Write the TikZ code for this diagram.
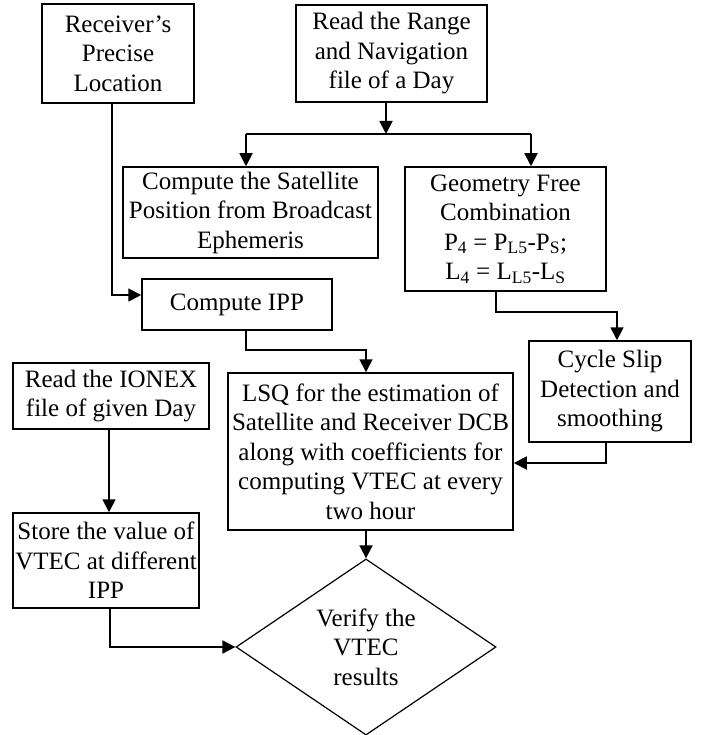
\documentclass[tikz,border=0pt]{standalone}
\usepackage{fontspec}
\setmainfont{Liberation Serif}
\usetikzlibrary{arrows.meta,shapes.geometric}
\begin{document}
\begin{tikzpicture}[x=1pt,y=1pt,
  every node/.style={font=\fontsize{25}{29.5}\selectfont, align=center, inner sep=0pt},
  boxnode/.style={draw, line width=1.5pt, rectangle},
  arr/.style={line width=1.8pt, -{Triangle[length=13pt,width=13pt]}},
  conn/.style={line width=1.8pt}]
\useasboundingbox (0,0) rectangle (705,-735);
\node[boxnode, minimum width=152pt, minimum height=99pt] (loc) at (118,-53.5) {Receiver’s\\Precise\\Location};
\node[boxnode, minimum width=191pt, minimum height=97pt] (read) at (391.5,-53.5) {Read the Range\\and Navigation\\file of a Day};
\node[boxnode, minimum width=255pt, minimum height=91pt] (sat) at (250.5,-212.5) {Compute the Satellite\\Position from Broadcast\\Ephemeris};
\node[boxnode, minimum width=201pt, minimum height=124pt] (geo) at (505.5,-229) {Geometry Free\\Combination\\P\textsubscript{4} = P\textsubscript{L5}-P\textsubscript{S};\\L\textsubscript{4} = L\textsubscript{L5}-L\textsubscript{S}};
\node[boxnode, minimum width=190pt, minimum height=51pt] (ipp) at (237,-304.5) {Compute IPP};
\node[boxnode, minimum width=162pt, minimum height=101pt] (cyc) at (610,-391.5) {Cycle Slip\\Detection and\\smoothing};
\node[boxnode, minimum width=285pt, minimum height=157pt] (lsq) at (370.5,-451.5) {LSQ for the estimation of\\Satellite and Receiver DCB\\along with coefficients for\\computing VTEC at every\\two hour};
\node[boxnode, minimum width=196pt, minimum height=66pt] (ionex) at (111,-396) {Read the IONEX\\file of given Day};
\node[boxnode, minimum width=186pt, minimum height=95pt] (store) at (106,-560.5) {Store the value of\\VTEC at different\\IPP};
\node[draw, diamond, line width=1.2pt, minimum width=260pt, minimum height=175pt] (ver) at (366,-647) {Verify the\\VTEC\\results};
% connectors
\coordinate (jm) at (386,-134);
\coordinate (jl) at (246,-134);
\coordinate (jr) at (531,-134);
\draw[arr] (read.south -| jm) -- (jm);
\draw[conn] (jl) -- (jr);
\draw[arr] (jl) -- (jl |- sat.north);
\draw[arr] (jr) -- (jr |- geo.north);
\draw[arr] ([xshift=-6pt]loc.south) |- ([yshift=9.5pt]ipp.west);
\draw[arr] ([xshift=9pt]ipp.south) -- ++(0,-19) -| ([xshift=-4.5pt]lsq.north);
\draw[arr] ([xshift=-9.5pt]geo.south) -- ++(0,-20) -| ([xshift=7pt]cyc.north);
\draw[arr] ([xshift=-4pt]cyc.south) |- ([yshift=-11.5pt]lsq.east);
\draw[arr] ([xshift=-2pt]ionex.south) -- ([xshift=-2pt]ionex.south |- store.north);
\draw[arr] ([xshift=4pt]store.south) |- (ver.west);
\draw[arr] (ver.north |- lsq.south) -- (ver.north);
\end{tikzpicture}
\end{document}
